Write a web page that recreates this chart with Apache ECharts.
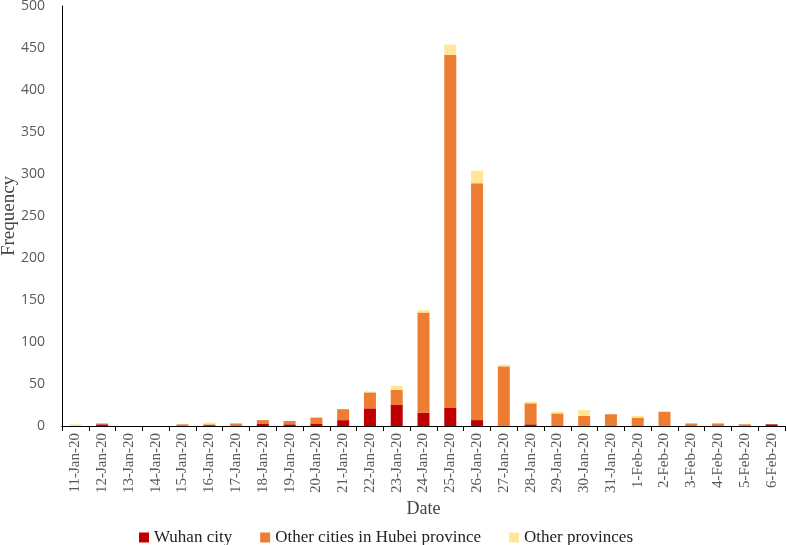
<!DOCTYPE html>
<html>
<head>
<meta charset="utf-8">
<script src="https://cdn.jsdelivr.net/npm/echarts@6/dist/echarts.min.js"></script>
<style>html,body{margin:0;padding:0;background:#fff}#c{width:787px;height:545px}</style>
</head>
<body>
<div id="c"></div>
<script>
const dates = ['11-Jan-20','12-Jan-20','13-Jan-20','14-Jan-20','15-Jan-20','16-Jan-20','17-Jan-20','18-Jan-20','19-Jan-20','20-Jan-20','21-Jan-20','22-Jan-20','23-Jan-20','24-Jan-20','25-Jan-20','26-Jan-20','27-Jan-20','28-Jan-20','29-Jan-20','30-Jan-20','31-Jan-20','1-Feb-20','2-Feb-20','3-Feb-20','4-Feb-20','5-Feb-20','6-Feb-20'];
const wuhan =       [0,2,0,0,0,1,0,3,2,3,7,21,25,16,22,7,0,2,0,0,0,0,0,0,0,0,2];
const otherHubei =  [0,1,0,0,2,1,3,4,4,7,13,19,18,119,420,282,71,25,15,12,14,10,17,3,3,2,0];
const otherProv =   [2,0,0,0,0,2,0,0,0,0,0,1,5,3,12,15,2,2,2,7,0,2,0,0,0,0,0];
const yTicks = [0,50,100,150,200,250,300,350,400,450,500];

const serif = '"Liberation Serif","Times New Roman",serif';
const sans = '"Open Sans","Liberation Sans",sans-serif';
const chart = echarts.init(document.getElementById('c'));
const mk = (name, data, color) => ({
  name, type: 'bar', stack: 'all', data, barWidth: 12,
  itemStyle: { color }
});
chart.setOption({
  animation: false,
  grid: { left: 62, right: 2, top: 6, bottom: 119, containLabel: false, outerBoundsMode: 'none' },
  legend: {
    left: 134, bottom: -6, icon: 'rect', itemWidth: 10, itemHeight: 10, itemGap: 28,
    textStyle: { fontFamily: serif, fontSize: 17, color: '#222' },
    data: ['Wuhan city', 'Other cities in Hubei province', 'Other provinces']
  },
  xAxis: {
    type: 'category', data: dates,
    name: 'Date', nameLocation: 'middle', nameGap: 74, nameMoveOverlap: false,
    nameTextStyle: { fontFamily: serif, fontSize: 18, color: '#444' },
    axisLine: { lineStyle: { color: '#000', width: 1 } },
    axisTick: { show: true, alignWithLabel: false, length: 5, lineStyle: { color: '#000' } },
    axisLabel: { rotate: 90, interval: 0, fontFamily: serif, fontSize: 15, color: '#595959', margin: 7 }
  },
  yAxis: {
    type: 'value', min: yTicks[0], max: yTicks[yTicks.length - 1], interval: 50,
    name: 'Frequency', nameLocation: 'middle', nameGap: 43, nameMoveOverlap: false,
    nameTextStyle: { fontFamily: serif, fontSize: 19, color: '#444' },
    axisLine: { show: true, lineStyle: { color: '#000', width: 1 } },
    axisTick: { show: false },
    splitLine: { show: false },
    axisLabel: { fontFamily: sans, fontSize: 14, color: '#595959', margin: 17 }
  },
  series: [
    mk('Wuhan city', wuhan, '#C00000'),
    mk('Other cities in Hubei province', otherHubei, '#ED7D31'),
    mk('Other provinces', otherProv, '#FFE699')
  ]
});
</script>
</body>
</html>
